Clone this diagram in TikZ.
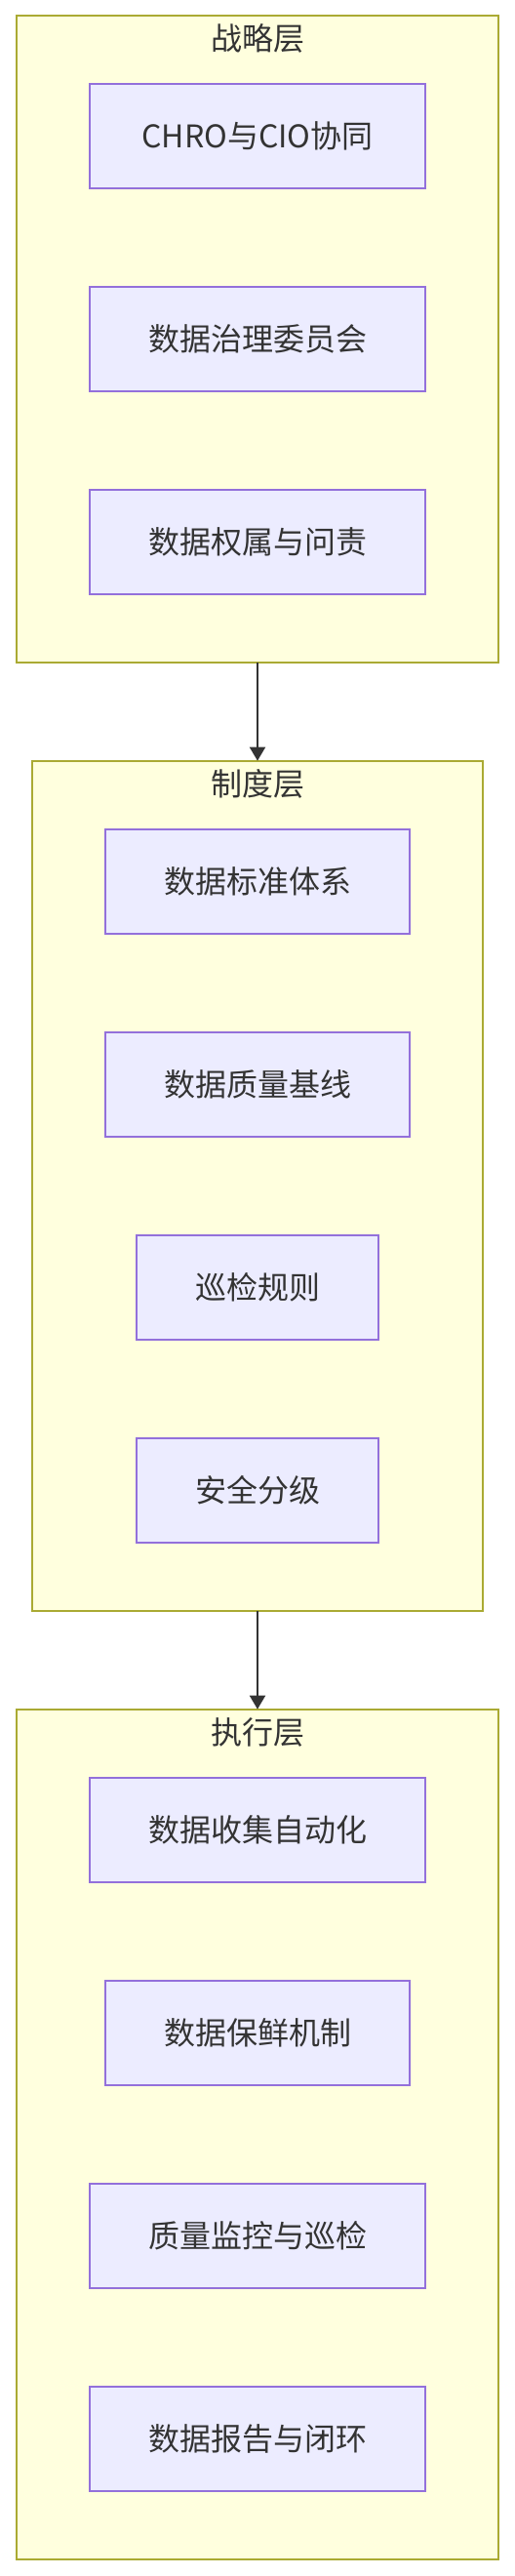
\documentclass[tikz,border=0pt]{standalone}
\usepackage{fontspec}
\setmainfont{Noto Sans CJK SC}
\usetikzlibrary{arrows.meta,positioning,fit,backgrounds}
\definecolor{layerfill}{HTML}{FFFFDE}
\definecolor{layerdraw}{HTML}{AAAA33}
\definecolor{itemfill}{HTML}{ECECFF}
\definecolor{itemdraw}{HTML}{9370DB}
\definecolor{textgray}{HTML}{333333}
\tikzset{
  node-item/.style={
    rectangle,
    line width=1pt,
    fill=itemfill,
    draw=itemdraw,
    text=textgray,
    font=\fontsize{16pt}{19pt}\selectfont,
    minimum height=53.75pt,
    inner xsep=30pt,
    inner ysep=0pt,
    outer sep=0pt
  },
  node-layer/.style={
    rectangle,
    line width=1pt,
    fill=layerfill,
    draw=layerdraw,
    inner xsep=37.5pt,
    inner ysep=35pt,
    outer sep=0pt
  },
  layer-title/.style={
    text=textgray,
    font=\fontsize{16pt}{19pt}\selectfont,
    inner sep=0pt
  },
  flow-arrow/.style={
    draw=textgray,
    line width=1pt,
    -{Triangle[width=8pt,length=7pt]}
  }
}
\newcommand{\canvasframe}{%
  \useasboundingbox (0,0) rectangle (263.5pt,-1320pt);
}

\begin{document}
\begin{tikzpicture}[node distance=50.25pt]
  \canvasframe
  % strategy layer
  \node[node-item, inner xsep=26.5pt] (chro) at (132pt,-69.7pt) {CHRO与CIO协同};
  \node[node-item, below=of chro] (council) {数据治理委员会};
  \node[node-item, below=of council] (owner) {数据权属与问责};
  % policy layer
  \node[node-item, below=120.25pt of owner] (standard) {数据标准体系};
  \node[node-item, below=of standard] (baseline) {数据质量基线};
  \node[node-item, below=of baseline] (patrol) {巡检规则};
  \node[node-item, below=of patrol] (security) {安全分级};
  % execution layer
  \node[node-item, below=120.25pt of security] (collect) {数据收集自动化};
  \node[node-item, below=of collect] (fresh) {数据保鲜机制};
  \node[node-item, below=of fresh] (monitor) {质量监控与巡检};
  \node[node-item, below=of monitor] (report) {数据报告与闭环};

  \begin{scope}[on background layer]
    \node[node-layer, fit=(chro)(council)(owner)] (strategy) {};
    \node[node-layer, fit=(standard)(baseline)(patrol)(security)] (policy) {};
    \node[node-layer, fit=(collect)(fresh)(monitor)(report)] (execution) {};
  \end{scope}
  \node[layer-title] (strategy-title) at ([yshift=-12pt]strategy.north) {战略层};
  \node[layer-title] (policy-title) at ([yshift=-12pt]policy.north) {制度层};
  \node[layer-title] (execution-title) at ([yshift=-12pt]execution.north) {执行层};

  \draw[flow-arrow] (strategy) -- (policy);
  \draw[flow-arrow] (policy) -- (execution);
\end{tikzpicture}
\end{document}
